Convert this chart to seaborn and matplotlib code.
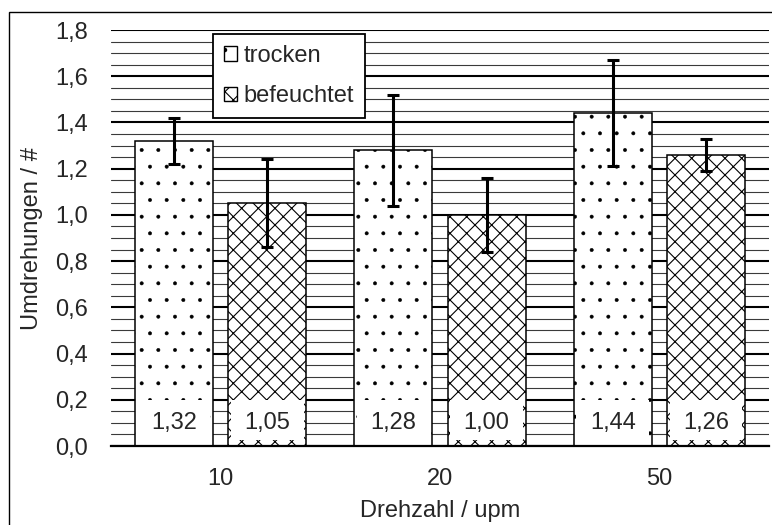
import matplotlib
matplotlib.use("Agg")
import matplotlib.pyplot as plt
import pandas as pd
import seaborn as sns
from matplotlib.patches import Patch, Rectangle
from matplotlib.ticker import FuncFormatter, MultipleLocator

# Mean revolutions per speed and condition, with standard deviations
speeds = ["10", "20", "50"]
conditions = ["trocken", "befeuchtet"]
mean_trocken = [1.32, 1.28, 1.44]
mean_befeuchtet = [1.05, 1.00, 1.26]
sd_trocken = [0.10, 0.24, 0.23]
sd_befeuchtet = [0.19, 0.16, 0.07]
hatches = [".", "xx"]
hatch_widths = [0.35, 0.8]

sns.set_style("white")
plt.rcParams["font.family"] = ["Liberation Sans", "DejaVu Sans"]
plt.rcParams["font.size"] = 17
plt.rcParams["hatch.linewidth"] = 0.8

df = pd.DataFrame({
    "Drehzahl": speeds * 2,
    "Zustand": [conditions[0]] * 3 + [conditions[1]] * 3,
    "Umdrehungen": mean_trocken + mean_befeuchtet,
})
sds = {conditions[0]: sd_trocken, conditions[1]: sd_befeuchtet}
means = {conditions[0]: mean_trocken, conditions[1]: mean_befeuchtet}

fig = plt.figure(figsize=(7.72, 5.25), dpi=100)
ax = fig.add_axes([111 / 772, 1 - 446 / 525, 658 / 772, 416 / 525])

sns.barplot(data=df, x="Drehzahl", y="Umdrehungen", hue="Zustand",
            order=speeds, hue_order=conditions, palette=["white", "white"],
            width=0.85, gap=0.165, errorbar=None, edgecolor="black",
            linewidth=1.1, legend=False, ax=ax, zorder=2)


def style_hatch(patch, hatch, hlw):
    patch.set_hatch(hatch)
    if hasattr(patch, "set_hatch_linewidth"):
        patch.set_hatch_linewidth(hlw)


for cond, hatch, hlw, container in zip(conditions, hatches, hatch_widths,
                                       ax.containers):
    for bar, m, s in zip(container, means[cond], sds[cond]):
        style_hatch(bar, hatch, hlw)
        x0, w = bar.get_x(), bar.get_width()
        cx = x0 + w / 2
        ax.errorbar(cx, m, yerr=s, fmt="none", ecolor="black",
                    elinewidth=2.2, capsize=4, capthick=2.2, zorder=4)
        # white label field at the foot of each bar
        ax.add_patch(Rectangle((x0 + 0.012, 0.026), w - 0.024, 0.172,
                               facecolor="white", edgecolor="none", zorder=3))
        ax.text(cx, 0.1, f"{m:.2f}".replace(".", ","), ha="center",
                va="center", zorder=5)

ax.set_xlim(-0.5, 2.5)
ax.set_ylim(0, 1.8)
ax.yaxis.set_major_locator(MultipleLocator(0.2))
ax.yaxis.set_minor_locator(MultipleLocator(0.05))
ax.yaxis.set_major_formatter(FuncFormatter(lambda v, p: f"{v:.1f}".replace(".", ",")))
ax.set_axisbelow(True)
ax.grid(which="major", axis="y", color="black", linewidth=1.5)
ax.grid(which="minor", axis="y", color="#3a3a3a", linewidth=0.8)
ax.grid(False, axis="x")
ax.tick_params(axis="y", which="both", length=0, pad=16.5)
ax.tick_params(axis="x", length=0, pad=16)

for side in ("left", "right", "top"):
    ax.spines[side].set_visible(False)
ax.spines["bottom"].set_color("black")
ax.spines["bottom"].set_linewidth(1.6)
ax.spines["bottom"].set_zorder(3.5)

ax.set_xlabel("Drehzahl / upm", labelpad=7)
ax.set_ylabel("Umdrehungen / #", labelpad=9)

handles = []
for c, h, hlw in zip(conditions, hatches, hatch_widths):
    p = Patch(facecolor="white", edgecolor="black", label=c, linewidth=1.0)
    style_hatch(p, h, hlw)
    handles.append(p)
leg = ax.legend(handles=handles, loc="upper left", bbox_to_anchor=(0.155, 0.99),
                frameon=True, fancybox=False, edgecolor="black", framealpha=1,
                handlelength=0.55, handleheight=0.55, handletextpad=0.3,
                labelspacing=0.78, borderpad=0.45, borderaxespad=0)
leg.get_frame().set_linewidth(1.3)
leg.set_zorder(6)

# Outer chart frame
fig.add_artist(Rectangle((9 / 772, -0.1), 1.2, 1 - 12 / 525 + 0.1,
                         transform=fig.transFigure, fill=False,
                         edgecolor="black", linewidth=1))

fig.savefig("out.png", dpi=100)
